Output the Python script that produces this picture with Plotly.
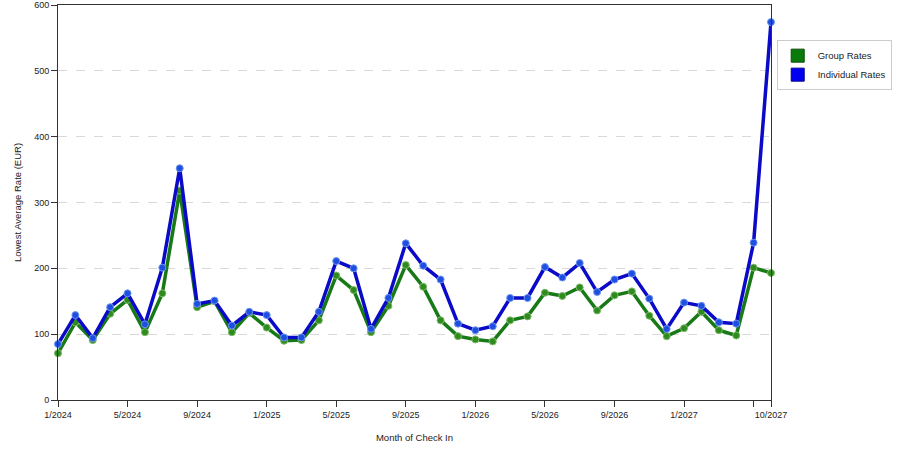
import plotly.graph_objects as go

# Month of check in (categorical axis, last few months are sparse)
months = [
    "1/2024", "2/2024", "3/2024", "4/2024", "5/2024", "6/2024", "7/2024", "8/2024",
    "9/2024", "10/2024", "11/2024", "12/2024", "1/2025", "2/2025", "3/2025", "4/2025",
    "5/2025", "6/2025", "7/2025", "8/2025", "9/2025", "10/2025", "11/2025", "12/2025",
    "1/2026", "2/2026", "3/2026", "4/2026", "5/2026", "6/2026", "7/2026", "8/2026",
    "9/2026", "10/2026", "11/2026", "12/2026", "1/2027", "2/2027", "3/2027", "4/2027",
    "5/2027", "10/2027",
]

group_rates = [
    71, 118, 91, 131, 152, 103, 162, 318, 141, 150, 103, 132, 110, 90, 91, 121,
    189, 167, 103, 143, 205, 172, 121, 97, 92, 89, 121, 127, 163, 158, 171, 136,
    159, 165, 128, 97, 109, 134, 106, 98, 201, 193,
]

individual_rates = [
    85, 129, 94, 141, 162, 115, 201, 352, 146, 151, 113, 134, 129, 95, 95, 134,
    211, 200, 108, 155, 238, 204, 183, 116, 106, 112, 155, 155, 202, 186, 208, 164,
    183, 192, 154, 108, 148, 143, 118, 116, 239, 574,
]

# labelled ticks every 4 months, plus an unlabelled one before the last month
tick_idx = [0, 4, 8, 12, 16, 20, 24, 28, 32, 36, 40, 41]
tick_vals = [months[i] for i in tick_idx]
tick_text = [months[i] if i != 40 else "" for i in tick_idx]

FONT = "Liberation Sans"

fig = go.Figure()

# the actual lines (legend handled by square-marker dummies below)
fig.add_trace(go.Scatter(
    x=months, y=group_rates, mode="lines+markers", showlegend=False,
    line=dict(color="#177a17", width=3.5),
    marker=dict(size=7, color="#2e8b1e", line=dict(color="#7fb86a", width=1)),
    cliponaxis=False,
))
fig.add_trace(go.Scatter(
    x=months, y=individual_rates, mode="lines+markers", showlegend=False,
    line=dict(color="#0a0ac8", width=3.5),
    marker=dict(size=7, color="#1f4fe0", line=dict(color="#6d95ee", width=1)),
    cliponaxis=False,
))

# legend entries drawn as squares
fig.add_trace(go.Scatter(
    x=[None], y=[None], mode="markers", name="Group Rates",
    marker=dict(symbol="square", size=13, color="#0a7a0a", line=dict(color="#0a4a0a", width=1)),
))
fig.add_trace(go.Scatter(
    x=[None], y=[None], mode="markers", name="Individual Rates",
    marker=dict(symbol="square", size=13, color="#0000f0", line=dict(color="#00008a", width=1)),
))

fig.update_layout(
    width=900, height=450,
    margin=dict(l=58, r=129, t=5, b=50),
    paper_bgcolor="white", plot_bgcolor="white",
    font=dict(family=FONT, size=9, color="#222"),
    legend=dict(
        x=1.008, y=0.911, xanchor="left", yanchor="top",
        bordercolor="#cccccc", borderwidth=1, bgcolor="white",
        font=dict(family=FONT, size=9.5, color="#222"),
        itemwidth=30, tracegroupgap=4,
    ),
)

fig.update_xaxes(
    type="category", categoryorder="array", categoryarray=months,
    range=[0, 41], tickmode="array", tickvals=tick_vals, ticktext=tick_text,
    ticks="outside", ticklen=6, tickcolor="#333", tickangle=0,
    showline=True, linecolor="#333", linewidth=1, mirror=True,
    showgrid=False, zeroline=False, automargin=False,
    title=dict(text="Month of Check In", font=dict(family=FONT, size=9.5)),
)
fig.update_yaxes(
    range=[0, 600], tickmode="array", tickvals=[0, 100, 200, 300, 400, 500, 600],
    ticks="outside", ticklen=6, tickcolor="#333",
    showline=True, linecolor="#333", linewidth=1, mirror=True,
    showgrid=True, gridcolor="#d9d9d9", griddash="dash", gridwidth=1,
    zeroline=False, automargin=False,
    title=dict(text="Lowest Average Rate (EUR)", font=dict(family=FONT, size=9.5), standoff=10),
)

# page body margin would shift the chart by 8px
fig.write_html(
    "out.html",
    config={"displayModeBar": False},
    post_script="document.body.style.margin='0';",
)
